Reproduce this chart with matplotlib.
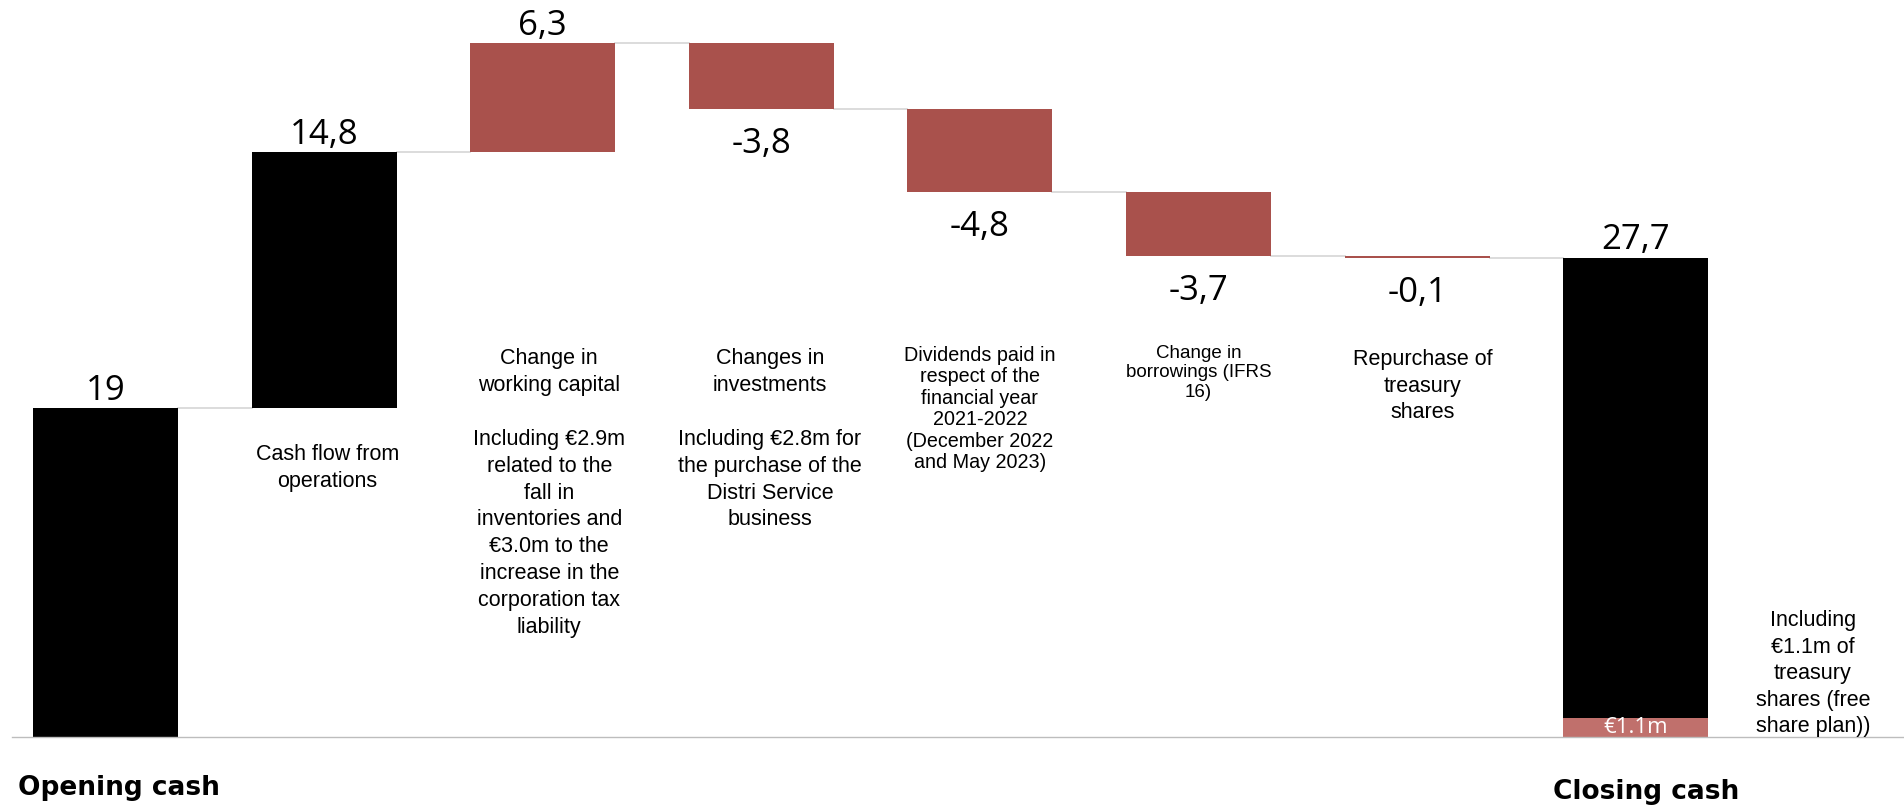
import matplotlib.pyplot as plt
import numpy as np

# cash bridge, EUR m
steps = ['Opening cash', 'Cash flow', 'Working capital', 'Investments',
         'Dividends', 'Borrowings', 'Treasury shares', 'Closing cash']
values = [19, 14.8, 6.3, -3.8, -4.8, -3.7, -0.1, 27.7]
is_total = [True, True, False, False, False, False, False, True]
treasury_in_closing = 1.1

descriptions = [
    None,
    'Cash flow from\noperations',
    'Change in\nworking capital\n\nIncluding €2.9m\nrelated to the\nfall in\ninventories and\n'
    '€3.0m to the\nincrease in the\ncorporation tax\nliability',
    'Changes in\ninvestments\n\nIncluding €2.8m for\nthe purchase of the\nDistri Service\nbusiness',
    'Dividends paid in\nrespect of the\nfinancial year\n2021-2022\n(December 2022\nand May 2023)',
    'Change in\nborrowings (IFRS\n16)',
    'Repurchase of\ntreasury\nshares',
    None,
]
closing_note = 'Including\n€1.1m of\ntreasury\nshares (free\nshare plan))'

BLACK = '#000000'
RED = '#a9514c'
SALMON = '#c0706c'
CONNECTOR = '#d9d9d9'

# running totals -> bottom/top of each bar
bottoms = []
tops = []
level = 0.0
for i, v in enumerate(values):
    if i == 0 or i == len(values) - 1:
        b, t = 0.0, v
        level = v
    else:
        b, t = level, level + v
        level = t
    bottoms.append(min(b, t))
    tops.append(max(b, t))
ends = [values[0]]
for v in values[1:-1]:
    ends.append(ends[-1] + v)
ends.append(values[-1])

fig = plt.figure(figsize=(19.04, 8.08), dpi=100)
ax = fig.add_axes([0, 0, 1, 1])
ax.set_xlim(-0.4826, 8.2274)
ax.set_ylim(-4.10, 42.6)
ax.axis('off')

x = np.arange(len(values))
width = 0.663
colors = [BLACK if i in (0, 1, len(values) - 1) else RED for i in range(len(values))]
heights = [t - b for b, t in zip(bottoms, tops)]
ax.bar(x, heights, bottom=bottoms, width=width, color=colors, zorder=2)

# €1.1m of treasury shares inside closing cash
ax.bar(x[-1], treasury_in_closing, width=width, color=SALMON, zorder=3)
ax.text(x[-1], treasury_in_closing / 2, '€1.1m', ha='center', va='center',
        color='white', fontsize=16, family='Open Sans', zorder=4)

# connectors between bars
for i in range(len(values) - 1):
    ax.plot([x[i] + width / 2, x[i + 1] - width / 2], [ends[i], ends[i]],
            color=CONNECTOR, lw=1.3, zorder=1)

# baseline
ax.plot([-0.428, 8.2274], [0, 0], color='#bdbdbd', lw=1.0, zorder=3)

# value labels
for i, v in enumerate(values):
    txt = (f'{v:g}').replace('.', ',')
    if v >= 0 or is_total[i]:
        ax.annotate(txt, (x[i], tops[i]), xytext=(0, 6.2), textcoords='offset points',
                    ha='center', va='baseline', fontsize=25, family='Open Sans')
    else:
        ax.annotate(txt, (x[i], bottoms[i]), xytext=(0, -31.5), textcoords='offset points',
                    ha='center', va='baseline', fontsize=25, family='Open Sans')

# step descriptions
desc_x = [None, 1.016, 2.03, 3.04, 4.0, 5.0, 6.027, None]
desc_y = [None, 16.94, 22.49, 22.49, 22.6, 22.66, 22.43, None]
desc_size = [None, 15.5, 15.5, 15.5, 14.2, 13.5, 15.5, None]
desc_ls = [None, 1.37, 1.37, 1.37, 1.16, 1.18, 1.36, None]
for i, d in enumerate(descriptions):
    if d is None:
        continue
    ax.text(desc_x[i], desc_y[i], d, ha='center', va='top', fontsize=desc_size[i],
            family='Liberation Sans', linespacing=desc_ls[i])

ax.text(7.81, 7.34, closing_note, ha='center', va='top', fontsize=15.5,
        family='Liberation Sans', linespacing=1.35)

ax.text(-0.40, -2.95, steps[0], ha='left', va='center', fontsize=19,
        fontweight='bold', family='DejaVu Sans')
ax.text(7.05, -3.2, steps[-1], ha='center', va='center', fontsize=19,
        fontweight='bold', family='DejaVu Sans')

fig.savefig('out.png', dpi=100, facecolor='white')
